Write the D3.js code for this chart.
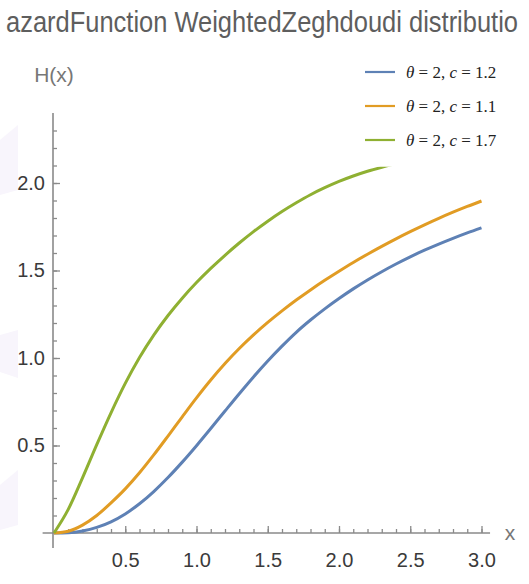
<!DOCTYPE html>
<html><head><meta charset="utf-8">
<script src="https://cdn.jsdelivr.net/npm/d3@7"></script>
<style>
html,body{margin:0;padding:0;background:#fff;overflow:hidden}
svg{display:block}
</style></head>
<body>
<script>
const xs = [0,0.1,0.2,0.3,0.4,0.5,0.6,0.7,0.8,0.9,1.0,1.1,1.2,1.3,1.4,1.5,1.6,1.7,1.8,1.9,2.0,2.1,2.2,2.3,2.4,2.5,2.6,2.7,2.8,2.9,3.0];
const blueC12   = [0,0.002,0.012,0.032,0.064,0.109,0.167,0.237,0.317,0.405,0.499,0.597,0.697,0.796,0.892,0.983,1.068,1.147,1.217,1.281,1.34,1.395,1.446,1.493,1.537,1.578,1.616,1.651,1.684,1.715,1.744];
const orangeC11 = [0,0.01,0.045,0.10,0.172,0.252,0.344,0.446,0.554,0.664,0.772,0.874,0.968,1.054,1.132,1.203,1.269,1.331,1.389,1.444,1.496,1.546,1.593,1.638,1.681,1.722,1.761,1.798,1.833,1.866,1.897];
const greenC17  = [0,0.135,0.315,0.505,0.687,0.855,1.003,1.131,1.243,1.342,1.431,1.512,1.587,1.657,1.722,1.782,1.837,1.887,1.933,1.973,2.009,2.040,2.067,2.090,2.111,2.130,2.147,2.163,2.178,2.192,2.205];
const seriesNames = ["c = 1.2","c = 1.1","c = 1.7"];
const seriesColors = ["#5E81B5","#E19C24","#8FB032"];
const legendTheta = "2";
const legendC = ["1.2","1.1","1.7"];
const xTickValues = [0.5,1.0,1.5,2.0,2.5,3.0];
const yTickValues = [0.5,1.0,1.5,2.0];
const xMinor = d3.range(1,31).map(i=>i/10);
const yMinor = d3.range(1,24).map(i=>i/10);
const titleText = "azardFunction WeightedZeghdoudi distributio";
const yLabel = "H(x)";
const xLabel = "x";

const W=529,H=584;
const svg = d3.select("body").append("svg").attr("width",W).attr("height",H);

// faint watermark shapes at left edge
const wm = [[[0,140],[18,125],[18,190],[0,195]],[[0,335],[18,330],[18,378],[0,372]],[[0,485],[18,470],[18,525],[0,530]]];
svg.selectAll("path.wm").data(wm).join("path").attr("class","wm")
  .attr("d",d=>d3.line()(d)+"Z").attr("fill","#f8f5fc");

const x = d3.scaleLinear().domain([0,3]).range([54,481.5]);
const y = d3.scaleLinear().domain([0,2]).range([533,183]);

// title (tall, condensed)
svg.append("g").attr("transform","translate(6,32) scale(1,1.16)")
  .append("text").attr("x",0).attr("y",0)
  .attr("font-family","Liberation Sans, Arial, sans-serif").attr("font-size",25)
  .attr("fill","#5e5e5e").attr("textLength",512).attr("lengthAdjust","spacingAndGlyphs")
  .text(titleText);

const axisColor="#8a8a8a";
svg.append("line").attr("x1",x(-0.08)).attr("x2",x(3.06)).attr("y1",y(0)).attr("y2",y(0))
  .attr("stroke",axisColor).attr("stroke-width",1.6);
svg.append("line").attr("x1",x(0)-1).attr("x2",x(0)-1).attr("y1",y(-0.085)).attr("y2",y(2.4))
  .attr("stroke",axisColor).attr("stroke-width",1.6);

const fontSans = "Liberation Sans, Arial, sans-serif";
// x axis
const gx = svg.append("g").attr("transform",`translate(0,${y(0)})`);
gx.call(d3.axisBottom(x).tickValues(xMinor).tickSize(-4).tickFormat(""));
gx.select(".domain").remove();
const gx2 = svg.append("g").attr("transform",`translate(0,${y(0)})`);
gx2.call(d3.axisBottom(x).tickValues(xTickValues).tickSize(-7).tickPadding(20).tickFormat(d3.format(".1f")));
gx2.select(".domain").remove();
[gx,gx2].forEach(g=>g.selectAll("line").attr("stroke",axisColor).attr("stroke-width",1.3));
gx2.selectAll("text").attr("font-family",fontSans).attr("font-size",20).attr("fill","#3a3a3a");

// y axis
const gy = svg.append("g").attr("transform",`translate(${x(0)-1},0)`);
gy.call(d3.axisLeft(y).tickValues(yMinor).tickSize(-4).tickFormat(""));
gy.select(".domain").remove();
const gy2 = svg.append("g").attr("transform",`translate(${x(0)-1},0)`);
gy2.call(d3.axisLeft(y).tickValues(yTickValues).tickSize(-7).tickPadding(8).tickFormat(d3.format(".1f")));
gy2.select(".domain").remove();
[gy,gy2].forEach(g=>g.selectAll("line").attr("stroke",axisColor).attr("stroke-width",1.3));
gy2.selectAll("text").attr("font-family",fontSans).attr("font-size",20).attr("fill","#3a3a3a");

// axis labels
svg.append("text").attr("x",x(0)).attr("y",82).attr("text-anchor","middle")
  .attr("font-family",fontSans).attr("font-size",21).attr("fill","#777").text(yLabel);
svg.append("text").attr("x",510).attr("y",y(0)+7).attr("text-anchor","middle")
  .attr("font-family",fontSans).attr("font-size",21).attr("fill","#777").text(xLabel);

// clip
svg.append("clipPath").attr("id","clip").append("rect")
  .attr("x",x(-0.1)).attr("y",y(2.093)).attr("width",x(3.1)-x(-0.1)).attr("height",y(-0.1)-y(2.093));

const series = [blueC12, orangeC11, greenC17];
const line = d3.line().x((d,i)=>x(xs[i])).y(d=>y(d)).curve(d3.curveMonotoneX);
svg.append("g").attr("clip-path","url(#clip)").selectAll("path").data(series).join("path")
  .attr("d",line).attr("fill","none").attr("stroke",(d,i)=>seriesColors[i]).attr("stroke-width",3);

// legend
const leg = svg.append("g");
const rows = [72,106,140];
seriesNames.forEach((nm,i)=>{
  leg.append("line").attr("x1",365).attr("x2",395).attr("y1",rows[i]).attr("y2",rows[i])
    .attr("stroke",seriesColors[i]).attr("stroke-width",2.2);
  const t = leg.append("text").attr("x",406).attr("y",rows[i]+6)
    .attr("font-family","Liberation Serif, Times New Roman, serif").attr("font-size",17).attr("fill","#222");
  t.append("tspan").attr("font-style","italic").text("θ");
  t.append("tspan").text(" = "+legendTheta+", ");
  t.append("tspan").attr("font-style","italic").text("c");
  t.append("tspan").text(" = "+legendC[i]);
});
</script>
</body></html>
